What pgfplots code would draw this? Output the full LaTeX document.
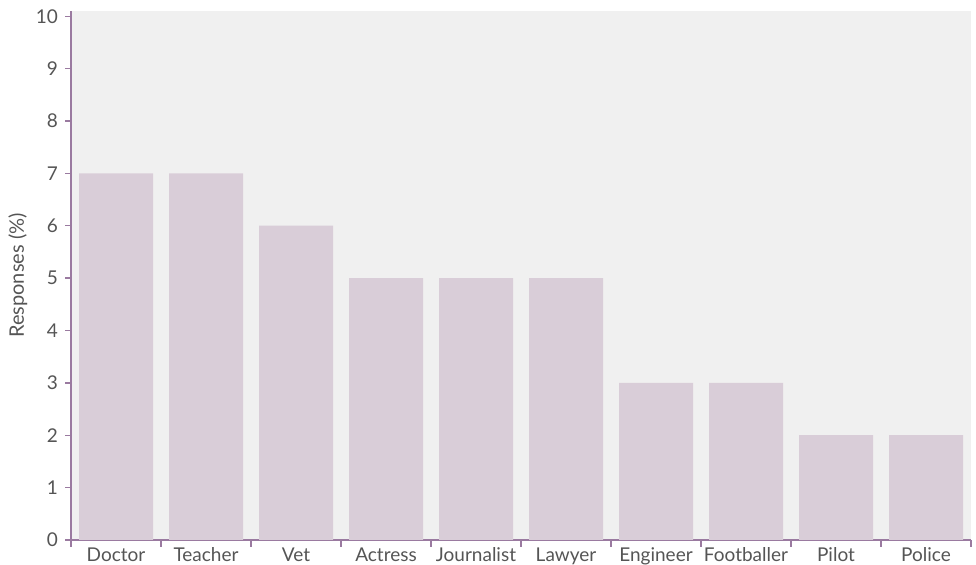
\documentclass[border=0pt]{standalone}
\usepackage{fontspec}
\setmainfont{Lato}
\usepackage{pgfplots}
\pgfplotsset{compat=1.18}
\definecolor{bgc}{HTML}{F0F0F0}
\definecolor{barc}{HTML}{D9CDD8}
\definecolor{axc}{HTML}{9A7AA0}
\definecolor{txc}{HTML}{555555}
\begin{document}
\begin{tikzpicture}
\begin{axis}[
  scale only axis,
  width=450pt, height=264.5pt,
  xmin=-0.5, xmax=9.5, ymin=0, ymax=10.1,
  axis x line*=bottom, axis y line*=left,
  axis line style={draw=axc, line width=0.7pt},
  axis background/.style={fill=bgc},
  tick align=outside,
  major tick length=3pt, minor tick length=3.5pt,
  tick style={draw=axc, line width=0.7pt},
  every major x tick/.style={draw=none},
  xtick={0,...,9},
  xticklabels={Doctor,Teacher,Vet,Actress,Journalist,Lawyer,Engineer,Footballer,Pilot,Police},
  minor xtick={-0.5,0.5,...,9.5},
  ytick={0,...,10},
  /pgf/number format/assume math mode=true,
  tick label style={font=\fontsize{9.5pt}{11pt}\selectfont, text=txc},
  xticklabel style={yshift=3.5pt, text height=7.5pt, text depth=2pt},
  ylabel={Responses (\%)},
  ylabel style={font=\fontsize{10pt}{12pt}\selectfont, text=txc, at={(axis description cs:-0.059,0.5)}, anchor=center},
]
\addplot[ybar, bar width=37pt, fill=barc, draw=none] coordinates {
 (0,7) (1,7) (2,6) (3,5) (4,5) (5,5) (6,3) (7,3) (8,2) (9,2)
};
\end{axis}
\pgfresetboundingbox
\path ([xshift=-35.5pt,yshift=-12.5pt]current axis.south west) rectangle ([xshift=2.5pt,yshift=5.5pt]current axis.north east);
\end{tikzpicture}
\end{document}
